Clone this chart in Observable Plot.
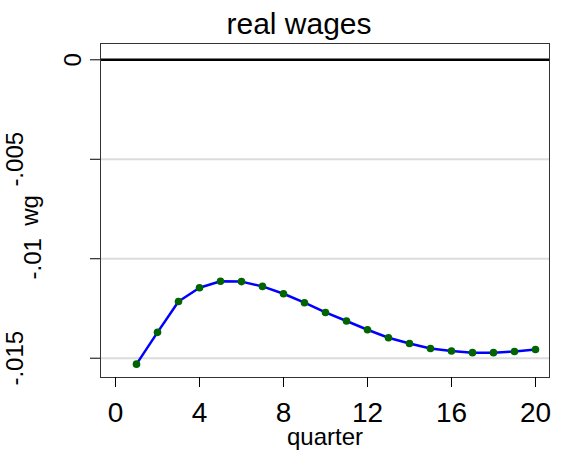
<!DOCTYPE html>
<html>
<head>
<meta charset="utf-8">
<script src="https://cdn.jsdelivr.net/npm/d3@7"></script>
<script src="https://cdn.jsdelivr.net/npm/@observablehq/plot@0.6"></script>
<style>
  html, body { margin: 0; padding: 0; background: #fff; }
  #chart { width: 570px; height: 451px; }
</style>
</head>
<body>
<div id="chart"></div>
<script>
// Impulse response of real wages by quarter
const quarters = [1, 2, 3, 4, 5, 6, 7, 8, 9, 10, 11, 12, 13, 14, 15, 16, 17, 18, 19, 20];
const wg = [-0.01530, -0.01370, -0.01215, -0.01146, -0.01113, -0.01115, -0.01139, -0.01176,
            -0.01221, -0.01270, -0.01313, -0.01357, -0.01397, -0.01426, -0.01451, -0.01464,
            -0.01472, -0.01472, -0.01466, -0.01456];
const xTicks = [0, 4, 8, 12, 16, 20];
const yTicks = [0, -0.005, -0.01, -0.015];
const yTickLabels = ["0", "-.005", "-.01", "-.015"];
const gridLines = [-0.005, -0.01, -0.015];
const titleText = "real wages";
const xTitle = "quarter";
const yTitle = "wg";

const data = quarters.map((q, i) => ({quarter: q, wg: wg[i]}));

const FONT = "'Liberation Sans', Arial, sans-serif";

// vertical tick labels sit further left the longer their horizontal width is
const ctx = document.createElement("canvas").getContext("2d");
ctx.font = `24px ${FONT}`;
const w0 = ctx.measureText("0").width;
const labelDx = (s) => -20 - 1.4 * (ctx.measureText(s).width - w0);

const yLabelMarks = yTicks.map((t, i) =>
  Plot.text([t], {
    y: (d) => d,
    text: () => yTickLabels[i],
    frameAnchor: "left",
    rotate: -90,
    textAnchor: "middle",
    lineAnchor: "bottom",
    dx: labelDx(yTickLabels[i]),
    fontSize: 24,
    fill: "#000"
  })
);

const chart = Plot.plot({
  width: 570,
  height: 451,
  marginTop: 43,
  marginBottom: 74,
  marginLeft: 100,
  marginRight: 21,
  style: {fontFamily: FONT, color: "#000", background: "#fff", overflow: "visible"},
  x: {domain: [-0.714, 20.667], axis: null},
  y: {domain: [-0.01597, 0.00082], axis: null},
  marks: [
    Plot.ruleY(gridLines, {stroke: "#dcdcdc", strokeWidth: 2}),
    Plot.ruleY([0], {stroke: "#000", strokeWidth: 2.5}),
    Plot.frame({stroke: "#333", strokeWidth: 1}),
    Plot.axisX(xTicks, {
      anchor: "bottom",
      tickSize: 10,
      tickPadding: 15,
      fontSize: 28,
      tickFormat: (d) => String(d),
      label: null
    }),
    Plot.axisY(yTicks, {
      anchor: "left",
      tickSize: 10,
      tickFormat: () => "",
      label: null
    }),
    ...yLabelMarks,
    Plot.text([yTitle], {
      frameAnchor: "left",
      rotate: -90,
      textAnchor: "middle",
      lineAnchor: "bottom",
      dx: -63,
      fontSize: 24,
      fill: "#000"
    }),
    Plot.text([xTitle], {
      frameAnchor: "bottom",
      lineAnchor: "bottom",
      dy: 67,
      fontSize: 24,
      fill: "#000"
    }),
    Plot.text([titleText], {
      frameAnchor: "top",
      lineAnchor: "bottom",
      dx: -26,
      dy: -10,
      fontSize: 30,
      fill: "#000"
    }),
    Plot.line(data, {x: "quarter", y: "wg", stroke: "#0000ff", strokeWidth: 2.5}),
    Plot.dot(data, {x: "quarter", y: "wg", r: 3.8, fill: "#006400", stroke: "none"})
  ]
});

document.getElementById("chart").appendChild(chart);
</script>
</body>
</html>
